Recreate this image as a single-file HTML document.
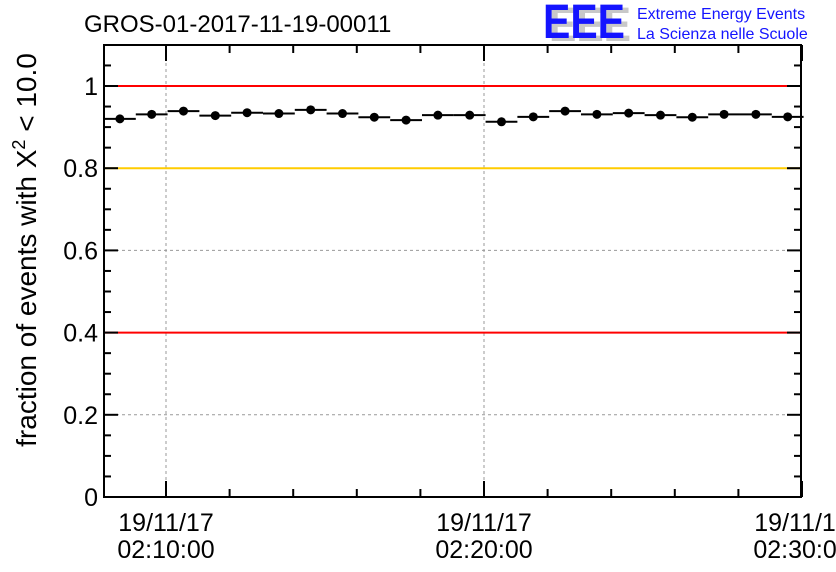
<!DOCTYPE html>
<html><head><meta charset="utf-8"><style>
html,body{margin:0;padding:0;background:#fff;}
svg{display:block;font-family:"Liberation Sans",Arial,sans-serif;}
</style></head><body>
<svg id="chart" width="836" height="572" viewBox="0 0 836 572">
<text x="84" y="32" font-size="24" fill="#000">GROS-01-2017-11-19-00011</text>
<g>
<text x="549" y="41" font-size="48" font-weight="bold" fill="#c8c8c8" textLength="82" lengthAdjust="spacingAndGlyphs">EEE</text>
<text x="543" y="38" font-size="48" font-weight="bold" fill="#1414ff" textLength="82" lengthAdjust="spacingAndGlyphs">EEE</text>
<text x="637" y="19" font-size="16" fill="#1414ff">Extreme Energy Events</text>
<text x="637" y="39" font-size="16" fill="#1414ff">La Scienza nelle Scuole</text>
</g>
<text transform="translate(36,250) rotate(-90)" text-anchor="middle" font-size="28" fill="#000">fraction of events with X<tspan dy="-11" font-size="18">2</tspan><tspan dy="11"> &lt; 10.0</tspan></text>
<g id="grid"></g><g id="axes"></g><g id="marks"></g>
</svg>
<script>
const yTicks=[0,0.2,0.4,0.6,0.8,1];
const yTickLabels=["0","0.2","0.4","0.6","0.8","1"];
const xMajor=[0,10,20];
const xLabelsDate=["19/11/17","19/11/17","19/11/17"];
const xLabelsTime=["02:10:00","02:20:00","02:30:00"];
const refRed=[1.0,0.4];
const refYellow=[0.8];
const times=[-1.45,-0.45,0.55,1.55,2.55,3.55,4.55,5.55,6.55,7.55,8.55,9.55,10.55,11.55,12.55,13.55,14.55,15.55,16.55,17.55,18.55,19.55];
const values=[0.920,0.931,0.939,0.928,0.935,0.933,0.942,0.933,0.924,0.917,0.929,0.929,0.913,0.925,0.939,0.931,0.934,0.929,0.924,0.931,0.931,0.925];
const L=104,R=801,T=45,B=497;
const X=t=>166+t*31.8;
const Y=v=>B-v*411;
const NS="http://www.w3.org/2000/svg";
function mk(p,tag,a){const e=document.createElementNS(NS,tag);for(const k in a)e.setAttribute(k,a[k]);p.appendChild(e);return e;}
const grid=document.getElementById('grid'),axes=document.getElementById('axes'),marks=document.getElementById('marks');
yTicks.forEach(v=>{if(v>0&&v<1){const l=mk(grid,'line',{x1:L,x2:R,y1:Y(v),y2:Y(v),stroke:'#999','stroke-dasharray':'3,3','stroke-width':1});

}});
xMajor.forEach(t=>{if(X(t)<R-2){const l=mk(grid,'line',{x1:X(t),x2:X(t),y1:T,y2:B,stroke:'#999','stroke-dasharray':'3,3','stroke-width':1});

}});
refRed.forEach(v=>{const l=mk(grid,'line',{x1:L,x2:R,y1:Y(v),y2:Y(v),stroke:'#ff0000','stroke-width':2});

});
refYellow.forEach(v=>{const l=mk(grid,'line',{x1:L,x2:R,y1:Y(v),y2:Y(v),stroke:'#ffcc00','stroke-width':2});

});
const fr=mk(axes,'rect',{x:L,y:T,width:R-L,height:B-T,fill:'none',stroke:'#000','stroke-width':2});


for(let i=0;i<=21;i++){const v=i*0.05;const y=Y(v);if(y<T)break;const maj=i%4===0;const len=maj?14:7;
mk(axes,'line',{x1:L,x2:L+len,y1:y,y2:y,stroke:'#000','stroke-width':2});
mk(axes,'line',{x1:R,x2:R-len,y1:y,y2:y,stroke:'#000','stroke-width':2});}
yTicks.forEach((v,i)=>{const t=mk(axes,'text',{x:L-6,y:Y(v)+9,'text-anchor':'end','font-size':25});t.textContent=yTickLabels[i];

});
for(let m=-2;m<=20;m+=2){const x=X(m);if(x<L)continue;const maj=m%10===0;const len=maj?16:8;
mk(axes,'line',{x1:x,x2:x,y1:B,y2:B-len,stroke:'#000','stroke-width':2});
mk(axes,'line',{x1:x,x2:x,y1:T,y2:T+len,stroke:'#000','stroke-width':2});}
xMajor.forEach((t,i)=>{const a=mk(axes,'text',{x:X(t),y:531,'text-anchor':'middle','font-size':25});a.textContent=xLabelsDate[i];


const b=mk(axes,'text',{x:X(t),y:558,'text-anchor':'middle','font-size':25});b.textContent=xLabelsTime[i];

});
times.forEach((t,i)=>{const y=Y(values[i]);
const h=mk(marks,'line',{x1:X(t-0.5),x2:X(t+0.5),y1:y,y2:y,stroke:'#000','stroke-width':2});


const c=mk(marks,'circle',{cx:X(t),cy:y,r:4.5,fill:'#000'});

});
</script>
</body></html>
